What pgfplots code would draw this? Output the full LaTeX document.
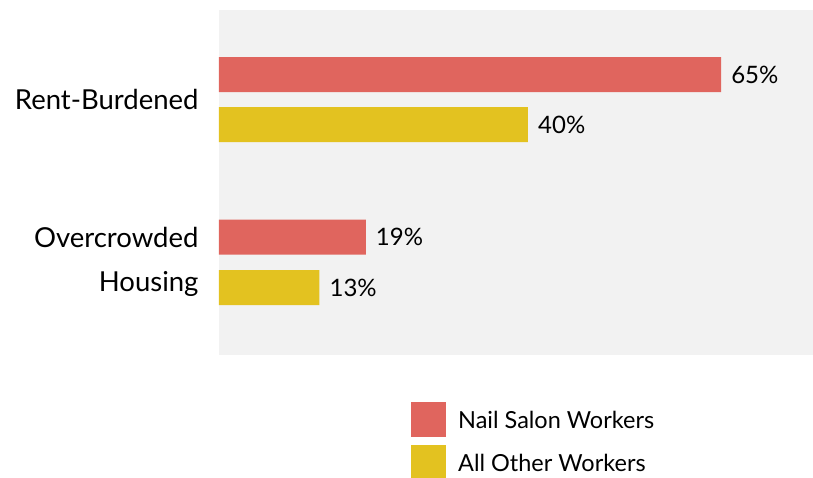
\documentclass[border=0pt]{standalone}
\usepackage{pgfplots}
\pgfplotsset{compat=1.18}
\usepackage{fontspec}
\setmainfont{Lato}
\definecolor{nailred}{HTML}{E0655E}
\definecolor{otheryel}{HTML}{E3C220}
\definecolor{bggray}{HTML}{F2F2F2}
\begin{document}
\begin{tikzpicture}[x=1pt,y=1pt]
\useasboundingbox (0,0) rectangle (813,477);
\begin{axis}[
 at={(219pt,122pt)}, anchor=south west,
 scale only axis, width=594pt, height=345pt,
 xmin=0, xmax=76.9, ymin=0, ymax=345, y dir=reverse,
 axis background/.style={fill=bggray},
 axis line style={draw=none},
 /pgf/number format/assume math mode=true,
 xtick=\empty, ytick={89.5,252},
 yticklabels={Rent-Burdened,{Overcrowded\\Housing}},
 major tick length=0pt,
 yticklabel style={align=right, font=\fontsize{27.5}{44}\selectfont, xshift=-17pt},
 xbar, bar width=35, bar shift=0pt,
 nodes near coords={\pgfmathprintnumber{\pgfplotspointmeta}\%},
 point meta=x,
 nodes near coords style={font=\fontsize{24}{30}\selectfont, anchor=west, inner sep=0pt, xshift=10pt},
 legend style={at={(axis description cs:0.3232,-0.1362)}, anchor=north west, draw=none, fill=none, inner sep=0pt, font=\fontsize{23.5}{28}\selectfont, row sep=8pt, nodes={inner sep=0pt, outer sep=0pt}},
 legend cell align=left,
 legend image code/.code={\fill[#1] (0pt,-17pt) rectangle (35pt,18pt); \path (47pt,0pt);},
]
\addplot[fill=nailred, draw=none] coordinates {(65,64.5) (19,227)};
\addplot[fill=otheryel, draw=none] coordinates {(40,114.5) (13,277.5)};
\legend{Nail Salon Workers, All Other Workers}
\end{axis}
\end{tikzpicture}
\end{document}
